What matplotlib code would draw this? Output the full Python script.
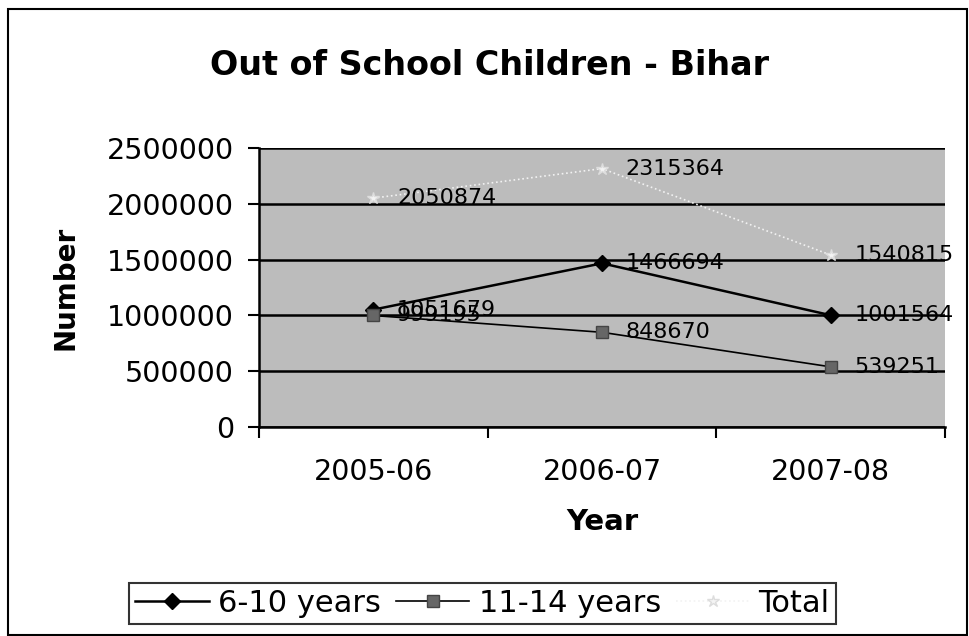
import matplotlib.pyplot as plt
from matplotlib.patches import Rectangle

plt.rcParams['font.family'] = ['DejaVu Sans']

years = ['2005-06', '2006-07', '2007-08']
age_6_10 = [1051679, 1466694, 1001564]
age_11_14 = [999195, 848670, 539251]
total = [2050874, 2315364, 1540815]
yticks = [0, 500000, 1000000, 1500000, 2000000, 2500000]

fig = plt.figure(figsize=(9.69, 6.36), dpi=100)
ax = fig.add_axes([0.2673, 0.3286, 0.708, 0.4387])
ax.set_facecolor('#bcbcbc')

x = list(range(len(years)))

ax.plot(x, total, color='#f2f2f2', linestyle=':', linewidth=1.2,
        marker='*', markersize=9, markerfacecolor='#f4f4f4',
        markeredgecolor='#dddddd', label='Total', zorder=3)
ax.plot(x, age_6_10, color='black', linewidth=1.8, marker='D',
        markersize=8, label='6-10 years', zorder=4)
ax.plot(x, age_11_14, color='black', linewidth=1.2, marker='s',
        markersize=8, markerfacecolor='#666666', markeredgecolor='#444444',
        label='11-14 years', zorder=4)

# data labels to the right of each point
for series in (age_6_10, age_11_14, total):
    for xi, v in zip(x, series):
        ax.annotate(str(v), (xi, v), xytext=(17, 0), textcoords='offset points',
                    ha='left', va='center', fontsize=16, color='black', zorder=5)

ax.set_xlim(-0.5, 2.5)
ax.set_ylim(0, 2500000)
ax.set_yticks(yticks)
ax.set_yticklabels([str(t) for t in yticks])
ax.yaxis.grid(True, color='black', linewidth=1.8)
ax.set_axisbelow(True)

ax.set_xticks(x)
ax.set_xticklabels(years)
ax.set_xticks([-0.5, 0.5, 1.5, 2.5], minor=True)
ax.tick_params(axis='x', which='major', length=0, pad=22, labelsize=20.5)
ax.tick_params(axis='x', which='minor', length=8, width=1.5, direction='out')
ax.tick_params(axis='y', length=8, width=1.5, pad=10, labelsize=20.5)

for side in ('top', 'right'):
    ax.spines[side].set_visible(False)
for side in ('left', 'bottom'):
    ax.spines[side].set_linewidth(1.8)

ax.set_xlabel('Year', fontsize=21, fontweight='bold', labelpad=16)
ax.set_ylabel('Number', fontsize=20, fontweight='bold', labelpad=20)
fig.text(0.505, 0.897, 'Out of School Children - Bihar', ha='center',
         va='center', fontsize=24, fontweight='bold')

handles, labels = ax.get_legend_handles_labels()
order = [1, 2, 0]
leg = fig.legend([handles[i] for i in order], [labels[i] for i in order],
                 loc='center', bbox_to_anchor=(0.498, 0.051), ncol=3,
                 fontsize=22, frameon=True, fancybox=False, edgecolor='black',
                 handlelength=2.4, handletextpad=0.3, columnspacing=0.5,
                 borderpad=0.2)
leg.get_frame().set_linewidth(1.5)

# outer chart border
fig.patches.append(Rectangle((0.008, 0.002), 0.990, 0.984, transform=fig.transFigure,
                             fill=False, edgecolor='black', linewidth=1.5))

fig.savefig('out.png', dpi=100)
